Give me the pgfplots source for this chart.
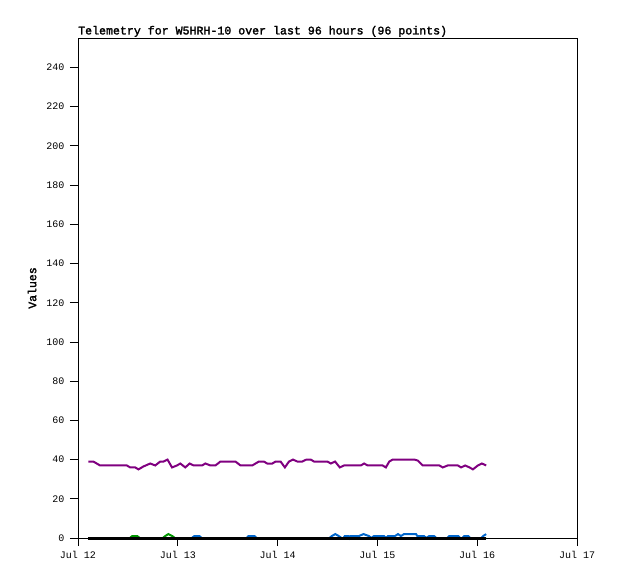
\documentclass[border=0pt]{standalone}
\usepackage{fontspec}
\usepackage{pgfplots}
\pgfplotsset{compat=1.18}
\setmainfont{Liberation Mono}
\newfontfamily\monob[FakeBold=2]{Liberation Mono}
\definecolor{tpurple}{RGB}{128,0,128}
\definecolor{tblue}{RGB}{0,102,204}
\definecolor{tgreen}{RGB}{0,150,0}
\begin{document}
\begin{tikzpicture}
\begin{axis}[
  scale only axis, width=499pt, height=500pt,
  xmin=0, xmax=5, ymin=0, ymax=255,
  xtick={0,1,2,3,4,5},
  xticklabels={Jul 12,Jul 13,Jul 14,Jul 15,Jul 16,Jul 17},
  ytick={0,20,...,240},
  tick align=outside, major tick length=8pt,
  xtick pos=bottom, ytick pos=left,
  axis line style={line width=0.8pt},
  tick style={line width=0.8pt, black},
  /pgf/number format/assume math mode=true,
  ticklabel style={font=\fontsize{10}{12}\selectfont},
  xticklabel style={yshift=-2pt},
  yticklabel style={xshift=-2pt},
  title={Telemetry for W5HRH-10 over last 96 hours (96 points)},
  title style={at={(0,1)}, anchor=south west, yshift=-6pt, inner xsep=0pt, inner ysep=1pt, font=\monob\fontsize{11.6}{13}\selectfont},
  ylabel={Values},
  ylabel style={at={(axis description cs:-0.092,0.5)}, anchor=center, font=\monob\fontsize{11.5}{13}\selectfont},
  clip=false,
]
\addplot[tpurple, line width=2pt] coordinates {
(0.104,39)(0.154,39)(0.221,37)(0.489,37)(0.523,36)(0.573,36)(0.606,35)(0.656,36.5)(0.724,38)(0.774,37)(0.824,39)(0.857,39)(0.897,40)(0.942,36)(0.992,37)(1.025,38)(1.075,36)(1.119,38)(1.159,37)(1.243,37)(1.276,38)(1.327,37)(1.377,37)(1.427,39)(1.578,39)(1.628,37)(1.746,37)(1.812,39)(1.862,39)(1.896,38)(1.947,38)(1.980,39)(2.030,39)(2.073,36)(2.114,39)(2.154,40)(2.198,39)(2.248,39)(2.288,40)(2.332,40)(2.365,39)(2.499,39)(2.533,38)(2.576,39)(2.623,36)(2.666,37)(2.834,37)(2.867,38)(2.902,37)(3.052,37)(3.085,36)(3.119,39)(3.153,40)(3.370,40)(3.404,39.5)(3.454,37)(3.621,37)(3.655,36)(3.705,37)(3.806,37)(3.839,36)(3.879,37)(3.923,36)(3.957,35)(4.007,37)(4.047,38)(4.090,37)
};
\addplot[tblue, line width=2pt] coordinates {
(0.104,0)(1.14,0)(1.166,1)(1.216,1)(1.24,0)(1.69,0)(1.709,1)(1.769,1)(1.79,0)(2.52,0)(2.543,1)(2.578,2)(2.613,1)(2.64,0)(2.66,0)(2.673,1)(2.714,1)(2.724,0)(2.734,1)(2.80,1)(2.814,1)(2.861,2)(2.915,1)(2.94,0)(2.965,1)(3.065,1)(3.085,0)(3.106,1)(3.166,1)(3.176,1)(3.206,2)(3.236,1)(3.266,2)(3.387,2)(3.40,1)(3.467,1)(3.49,0)(3.518,1)(3.568,1)(3.59,0)(3.70,0)(3.719,1)(3.809,1)(3.83,0)(3.85,0)(3.869,1)(3.910,1)(3.93,0)(4.04,0)(4.06,1)(4.09,2)
};
\addplot[tgreen, line width=2pt] coordinates {
(0.104,0)(0.52,0)(0.543,1)(0.593,1)(0.62,0)(0.85,0)(0.874,1)(0.905,2)(0.945,1)(0.97,0)(4.09,0)
};
\addplot[black, line width=3pt] coordinates {(0.104,0)(4.09,0)};
\end{axis}
\pgfresetboundingbox
\useasboundingbox ([shift={(-78pt,-41pt)}]current axis.south west) rectangle ([shift={(41pt,38pt)}]current axis.north east);
\end{tikzpicture}
\end{document}
